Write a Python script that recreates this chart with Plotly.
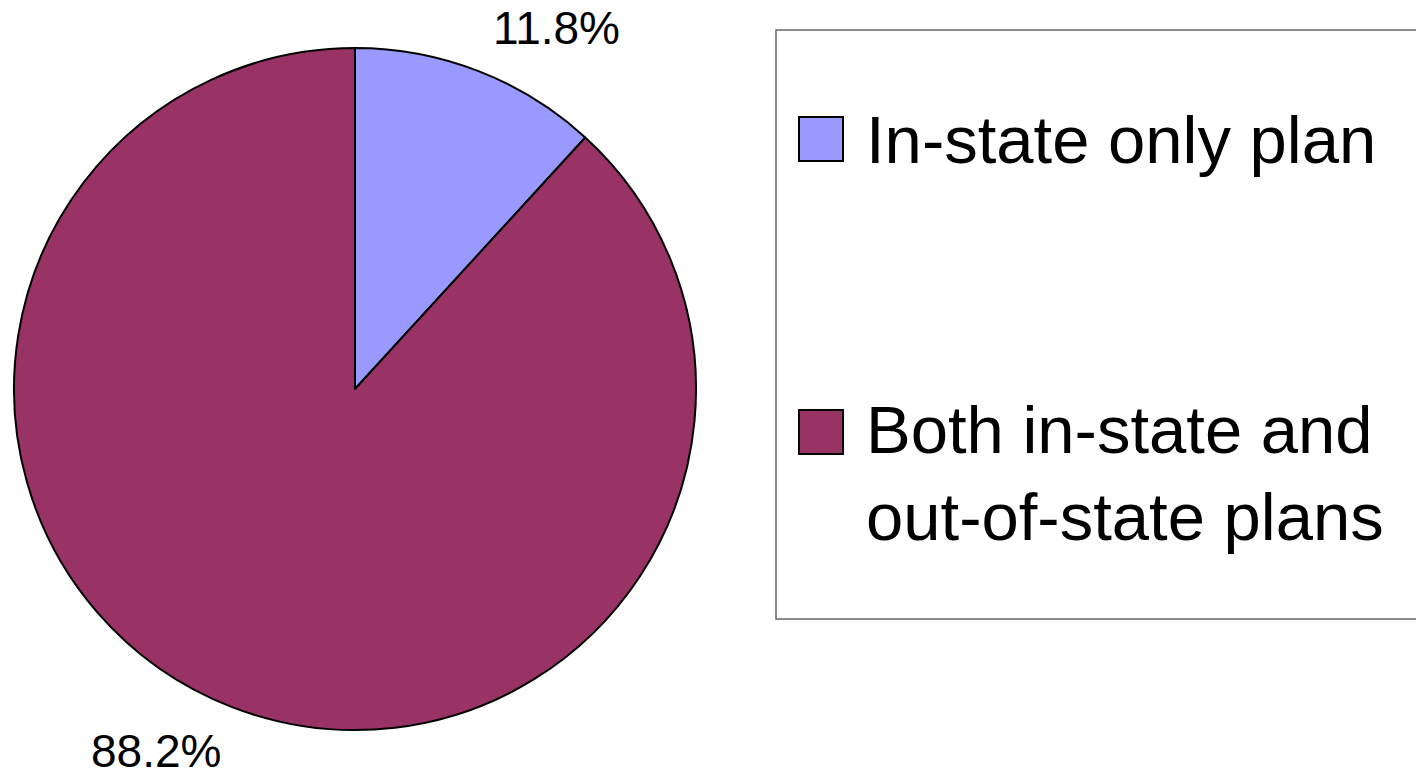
import plotly.graph_objects as go

W, H = 1416, 778

labels = ["In-state only plan", "Both in-state and<br>out-of-state plans"]
values = [11.8, 88.2]
colors = ["#9999FF", "#993366"]

def px(x):
    return x / W

def py(y):
    return 1 - y / H

total = sum(values)
pct_text = [f"{v / total * 100:.1f}%" for v in values]

fig = go.Figure()
fig.add_trace(go.Pie(
    labels=labels,
    values=values,
    sort=False,
    direction="clockwise",
    rotation=0,
    marker=dict(colors=colors, line=dict(color="black", width=2)),
    textinfo="none",
    domain=dict(x=[px(14), px(696)], y=[py(730), py(48)]),
    showlegend=False,
    hoverinfo="label+percent",
))

shapes = [
    dict(type="rect", xref="paper", yref="paper",
         x0=px(776), x1=px(1430), y0=py(619), y1=py(30),
         line=dict(color="#666666", width=1.5), fillcolor="rgba(0,0,0,0)"),
]
sq_tops = [117, 410]
for c, t in zip(colors, sq_tops):
    shapes.append(dict(type="rect", xref="paper", yref="paper",
                       x0=px(799), x1=px(843), y0=py(t + 44), y1=py(t),
                       line=dict(color="black", width=2), fillcolor=c))

annotations = []
text_mid = [139, 473]
for lab, ym in zip(labels, text_mid):
    annotations.append(dict(
        x=px(864), y=py(ym), xref="paper", yref="paper",
        xanchor="left", yanchor="middle", align="left",
        text=lab, showarrow=False,
        font=dict(family="Liberation Sans, Arial, sans-serif", size=67, color="black"),
    ))
pct_font = dict(family="Liberation Sans, Arial, sans-serif", size=46, color="black")
annotations.append(dict(
    x=px(556), y=py(28), xref="paper", yref="paper",
    xanchor="center", yanchor="middle", text=pct_text[0], showarrow=False,
    font=pct_font))
annotations.append(dict(
    x=px(156), y=0, xref="paper", yref="paper",
    xanchor="center", yanchor="bottom", text=pct_text[1], showarrow=False,
    borderpad=0, font=pct_font))

fig.update_layout(
    width=W, height=H,
    margin=dict(l=0, r=0, t=0, b=0),
    paper_bgcolor="white", plot_bgcolor="white",
    shapes=shapes, annotations=annotations,
)
fig.write_html("out.html", config={"displayModeBar": False},
               post_script="document.body.style.margin='0';document.body.style.overflow='hidden';")
